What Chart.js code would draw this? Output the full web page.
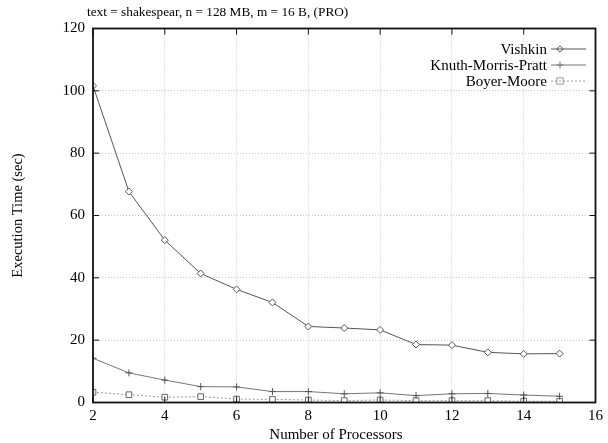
<!DOCTYPE html>
<html>
<head>
<meta charset="utf-8">
<script src="https://cdn.jsdelivr.net/npm/chart.js@4.4.1/dist/chart.umd.min.js"></script>
<style>
html,body{margin:0;padding:0;background:#fff;}
#wrap{width:608px;height:443px;}
</style>
</head>
<body>
<div id="wrap"><canvas id="myChart" width="608" height="443"></canvas></div>
<script>
// values
var processors=[2,3,4,5,6,7,8,9,10,11,12,13,14,15]
var vishkin=[101.6,67.7,52.1,41.4,36.3,32.1,24.4,23.9,23.3,18.6,18.4,16.1,15.6,15.7]
var kmp=[14.2,9.5,7.2,5.1,5.0,3.5,3.5,2.8,3.1,2.2,2.8,2.9,2.4,2.0]
var boyerMoore=[3.3,2.5,1.7,1.9,1.1,1.0,0.8,0.6,0.8,0.6,0.6,0.6,0.4,0.4]
var xTicks=[2,4,6,8,10,12,14,16]
var yTicks=[0,20,40,60,80,100,120]
var titleText="text = shakespear, n = 128 MB, m = 16 B, (PRO)"
var xTitle="Number of Processors"

var serif="'Liberation Serif', 'DejaVu Serif', serif"

function toPoints(ys){
    var pts=[]
    for(let i=0;i<processors.length;i++){
        pts.push({x:processors[i],y:ys[i]})
    }
    return pts
}

function marker(ctx,style,x,y){
    ctx.beginPath()
    if(style==="rectRot"){
        var r=3.2
        ctx.moveTo(x,y-r);ctx.lineTo(x+r,y);ctx.lineTo(x,y+r);ctx.lineTo(x-r,y);ctx.closePath()
    }else if(style==="cross"){
        var c=3.5
        ctx.moveTo(x-c,y);ctx.lineTo(x+c,y);ctx.moveTo(x,y-c);ctx.lineTo(x,y+c)
    }else{
        var s=3.2
        ctx.rect(x-s,y-s,2*s,2*s)
    }
    ctx.stroke()
}

// frame, inward ticks, title, x title and legend in gnuplot style
var gnuplotBits={
    id:"gnuplotBits",
    afterDraw:function(chart){
        var ctx=chart.ctx
        var a=chart.chartArea
        var xs=chart.scales.x, ys=chart.scales.y
        ctx.save()
        ctx.strokeStyle="#111"
        ctx.lineWidth=1.8
        ctx.strokeRect(a.left,a.top,a.right-a.left,a.bottom-a.top)
        ctx.lineWidth=1
        ctx.beginPath()
        xTicks.forEach(function(v){
            var px=xs.getPixelForValue(v)
            ctx.moveTo(px,a.bottom);ctx.lineTo(px,a.bottom-6)
            ctx.moveTo(px,a.top);ctx.lineTo(px,a.top+6)
        })
        yTicks.forEach(function(v){
            var py=ys.getPixelForValue(v)
            ctx.moveTo(a.left,py);ctx.lineTo(a.left+6,py)
            ctx.moveTo(a.right,py);ctx.lineTo(a.right-6,py)
        })
        ctx.stroke()

        ctx.fillStyle="#000"
        ctx.font="13.3px "+serif
        ctx.textAlign="left"
        ctx.textBaseline="alphabetic"
        ctx.fillText(titleText,87,16)

        ctx.font="15px "+serif
        ctx.textAlign="center"
        ctx.textBaseline="middle"
        ctx.fillText(xTitle,336,435)

        // legend
        var rows=[49,65,81]
        ctx.font="15px "+serif
        ctx.textAlign="right"
        ctx.textBaseline="middle"
        chart.data.datasets.forEach(function(ds,i){
            var y=rows[i]
            ctx.fillStyle="#000"
            ctx.fillText(ds.label,547,y+1)
            ctx.strokeStyle=ds.borderColor
            ctx.lineWidth=1
            ctx.setLineDash(ds.borderDash||[])
            ctx.beginPath();ctx.moveTo(551,y);ctx.lineTo(586,y);ctx.stroke()
            ctx.setLineDash([])
            ctx.fillStyle="#fff"
            marker(ctx,ds.pointStyle,560,y)
        })
        ctx.restore()
    }
}

var ctx=document.getElementById("myChart")
var myChart=new Chart(ctx,{
    type:"line",
    data:{
        datasets:[{
            label:"Vishkin",
            data:toPoints(vishkin),
            borderColor:"#555",
            borderWidth:1,
            pointStyle:"rectRot",
            pointRadius:3.5,
            pointBorderColor:"#555",
            pointBackgroundColor:"#fff",
            pointBorderWidth:1
        },{
            label:"Knuth-Morris-Pratt",
            data:toPoints(kmp),
            borderColor:"#777",
            borderWidth:1,
            pointStyle:"cross",
            pointRadius:3.5,
            pointBorderColor:"#555",
            pointBorderWidth:1
        },{
            label:"Boyer-Moore",
            data:toPoints(boyerMoore),
            borderColor:"#999",
            borderWidth:1,
            borderDash:[2,2],
            pointStyle:"rect",
            pointRadius:4,
            pointBorderColor:"#666",
            pointBackgroundColor:"#fff",
            pointBorderWidth:1
        }]
    },
    options:{
        responsive:false,
        animation:false,
        layout:{padding:{top:28.5,right:7,left:0,bottom:0}},
        plugins:{
            legend:{display:false},
            tooltip:{enabled:false}
        },
        scales:{
            x:{
                type:"linear",
                min:2,max:16,
                afterFit:function(scale){scale.height=40.5},
                ticks:{stepSize:2,color:"#000",font:{family:serif,size:15},padding:5},
                grid:{color:"#c8c8c8",drawTicks:false},
                border:{display:false,dash:[1,2]},
                title:{display:false}
            },
            y:{
                min:0,max:120,
                afterFit:function(scale){scale.width=93},
                ticks:{stepSize:20,color:"#000",font:{family:serif,size:15},padding:8},
                grid:{color:"#c8c8c8",drawTicks:false},
                border:{display:false,dash:[1,2]},
                title:{display:true,text:"Execution Time (sec)",color:"#000",font:{family:serif,size:14.5},padding:{top:9,bottom:0}}
            }
        }
    },
    plugins:[gnuplotBits]
})
</script>
</body>
</html>
